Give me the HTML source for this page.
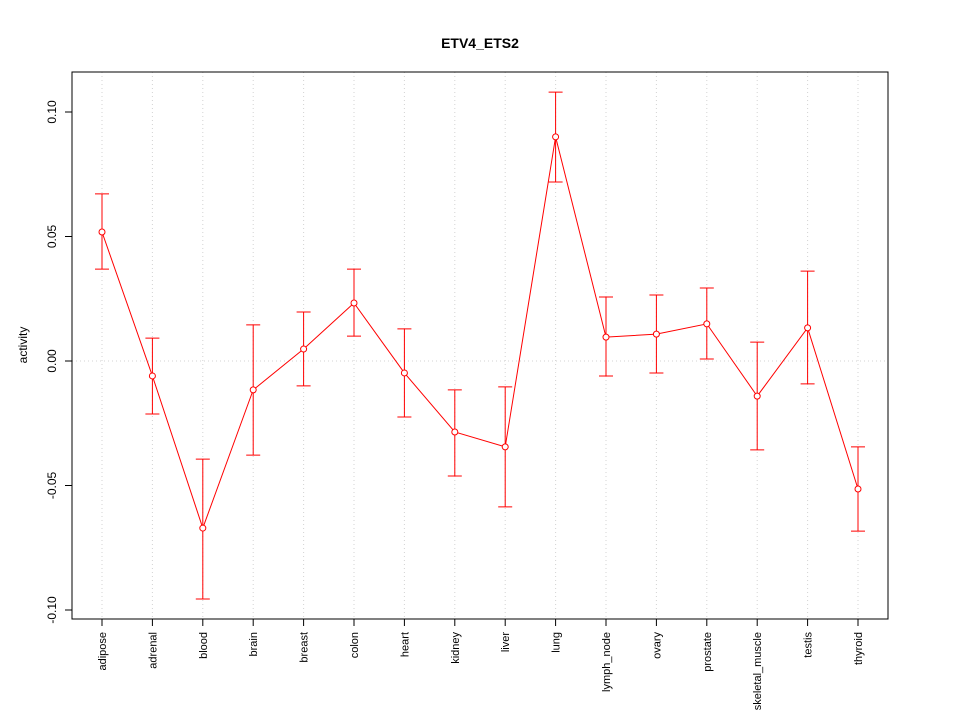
<!DOCTYPE html>
<html><head><meta charset="utf-8"><style>body{margin:0;background:#fff}svg{display:block;font-family:"Liberation Sans",sans-serif}</style></head>
<body>
<svg id="chart" width="960" height="720" xmlns="http://www.w3.org/2000/svg">
<rect width="960" height="720" fill="#fff"/>
<text x="480" y="48" text-anchor="middle" font-size="14" font-weight="bold">ETV4_ETS2</text>
<text transform="translate(27,345) rotate(-90)" text-anchor="middle" font-size="12">activity</text>
<g id="grid"></g><g id="axes"></g><g id="marks"></g>
<rect x="72" y="72" width="816" height="547" fill="none" stroke="#000"/>
</svg>
<script>
const categories=["adipose","adrenal","blood","brain","breast","colon","heart","kidney","liver","lung","lymph_node","ovary","prostate","skeletal_muscle","testis","thyroid"];
const values=[0.0518,-0.006,-0.0671,-0.0116,0.0048,0.0233,-0.0048,-0.0285,-0.0345,0.090,0.0096,0.0108,0.0149,-0.0141,0.0133,-0.0514];
const upper=[0.0671,0.0092,-0.0394,0.0145,0.0197,0.0369,0.0129,-0.0116,-0.0104,0.108,0.0257,0.0265,0.0293,0.0076,0.0361,-0.0345];
const lower=[0.0369,-0.0213,-0.0956,-0.0378,-0.010,0.010,-0.0225,-0.0462,-0.0586,0.0719,-0.006,-0.0048,0.0008,-0.0357,-0.0092,-0.0683];
const yTicks=[-0.10,-0.05,0.00,0.05,0.10];
const yTickLabels=["-0.10","-0.05","0.00","0.05","0.10"];
const ns="http://www.w3.org/2000/svg";
const X=i=>102+i*50.4;
const Y=v=>361-v*2490;
function mk(tag,attrs,parent,text){const e=document.createElementNS(ns,tag);for(const k in attrs)e.setAttribute(k,attrs[k]);if(text!==undefined)e.textContent=text;parent.appendChild(e);return e;}
const grid=document.getElementById('grid'),axes=document.getElementById('axes'),marks=document.getElementById('marks');
categories.forEach((c,i)=>{
 const g=mk('line',{x1:X(i),x2:X(i),y1:72,y2:619,stroke:"#d3d3d3","stroke-dasharray":"1,3"},grid);
 
 
 const t=mk('line',{x1:X(i),x2:X(i),y1:619,y2:626,stroke:"#000"},axes);
 
 
 const l=mk('text',{transform:`translate(${X(i)+4},632) rotate(-90)`,"text-anchor":"end","font-size":"11"},axes,c);
 
 
});
const zl=mk('line',{x1:72,x2:888,y1:Y(0),y2:Y(0),stroke:"#d3d3d3","stroke-dasharray":"1,3"},grid);


yTicks.forEach((v,i)=>{
 const t=mk('line',{x1:65,x2:72,y1:Y(v),y2:Y(v),stroke:"#000"},axes);
 
 
 const l=mk('text',{transform:`translate(56,${Y(v)}) rotate(-90)`,"text-anchor":"middle","font-size":"12"},axes,yTickLabels[i]);
 
 
});
const yl=mk('line',{x1:72,x2:72,y1:Y(0.10),y2:Y(-0.10),stroke:"#000"},axes);


const xl=mk('line',{x1:X(0),x2:X(15),y1:619,y2:619,stroke:"#000"},axes);


const pl=mk('polyline',{points:values.map((v,i)=>X(i)+","+Y(v)).join(" "),fill:"none",stroke:"#ff0000"},marks);


values.forEach((v,i)=>{
 const x=X(i);
 const e=mk('path',{d:`M${x},${Y(upper[i])}V${Y(lower[i])}M${x-7},${Y(upper[i])}H${x+7}M${x-7},${Y(lower[i])}H${x+7}`,stroke:"#ff0000",fill:"none"},marks);
 
 
 const p=mk('circle',{cx:x,cy:Y(v),r:3,fill:"#fff",stroke:"#ff0000"},marks);
 
 
});
</script>
</body></html>
